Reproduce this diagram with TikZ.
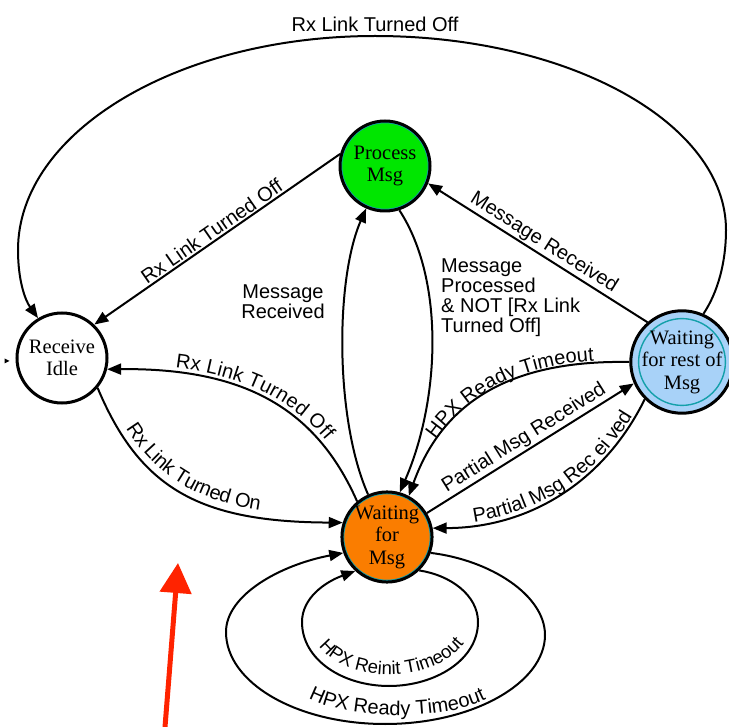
\documentclass[tikz,border=0pt]{standalone}
\usepackage{fontspec}
\setmainfont{Liberation Serif}
\setsansfont{Liberation Sans}
\usetikzlibrary{arrows.meta,decorations.text}

\definecolor{procgreen}{RGB}{0,230,0}
\definecolor{waitorange}{RGB}{250,125,0}
\definecolor{restblue}{RGB}{168,210,248}
\definecolor{ringteal}{RGB}{20,160,170}
\definecolor{markred}{RGB}{255,35,0}

\newcommand\stateLabelFont{\fontsize{20.5}{22.5}\selectfont}
\newcommand\transLabelFont{\sffamily\fontsize{20}{20}\selectfont}
\newcommand\loopLabelFont{\sffamily\fontsize{18.5}{20}\selectfont}

\tikzset{
  state/.style={circle, draw=black, line width=3pt, minimum size=90pt,
    inner sep=0pt, align=center, font=\stateLabelFont},
  ringed/.style={path picture={\draw[ringteal, line width=1.4pt]
    (path picture bounding box.center) circle[radius=43.4pt];}},
  trans/.style={line width=2pt, -{Triangle[length=14pt,width=11pt]}},
  lbl/.style={font=\transLabelFont, inner sep=1.5pt},
  % label text that follows a curved transition
  curvedlbl/.style n args={3}{decorate, decoration={text along path,
    text align={#1}, raise=#2, text={|\transLabelFont|#3}}},
  hint/.style={line width=5pt, draw=markred, -{Triangle[length=30pt,width=31pt]}}
}

\begin{document}
\begin{tikzpicture}[x=1pt,y=-1pt]
\useasboundingbox (0,0) rectangle (729,727);

% states
\node[state, fill=procgreen, ringed] (pm) at (385,166) {Process\\Msg};
\node[state, fill=white] (ri) at (62,358) {Receive\\Idle};
\node[state, fill=restblue, ringed] (wr) at (682,362) {Waiting\\for rest of\\Msg};
\node[state, fill=waitorange, ringed] (wfm) at (387,537) {Waiting\\for\\Msg};

% small entry mark left of the idle state
\fill (4.5,358.5) -- (9.5,361) -- (4.5,363.5) -- cycle;

% long arc over the top
\draw[trans] (wr.66) .. controls (718,292) and (726,262) .. (726,230)
  .. controls (726,123) and (569,36) .. (375,36)
  node[lbl, at end, above=2pt] (l1) {Rx Link Turned Off}
  .. controls (178,36) and (18,132) .. (18,250)
  .. controls (18,280) and (25,300) .. (ri.121);

% from Process Msg
\draw[trans] (pm.165) -- (ri.46)
  node[lbl, midway, sloped, above] (l2) {Rx Link Turned Off};
\draw[trans] (pm.288) .. controls (445,280) and (440,400) .. (wfm.74);
\node[lbl, anchor=west, align=left, inner sep=0pt] (l4) at (441,298)
  {Message\\Processed\\\& NOT [Rx Link\\Turned Off]};

% into Process Msg
\draw[trans] (wfm.114) .. controls (335,420) and (335,280) .. (pm.246);
\node[lbl, align=center, inner sep=0pt] (l3) at (283,302) {Message\\Received};
\draw[trans] (wr.131) -- (pm.-22)
  node[lbl, midway, sloped, above] (l5) {Message Received};

% between Receive Idle and Waiting for Msg
\draw[trans] (wfm.130) .. controls (315,406) and (241,368) .. (ri.-14);
\path[curvedlbl={center}{5pt}{Rx Link Turned Off}]
  (ri.-14) .. controls (241,368) and (315,406) .. (wfm.130);
\draw[trans] (ri.-40) .. controls (140,489) and (200,522) .. (wfm.162);
\path[curvedlbl={left, left indent=50pt}{7pt}{Rx Link Turned On}]
  (ri.-40) .. controls (140,489) and (200,522) .. (wfm.162);

% between Waiting for rest of Msg and Waiting for Msg
\draw[trans] (wr.180) .. controls (520,360) and (445,395) .. (wfm.62);
\path[curvedlbl={left, left indent=62pt}{2pt}{HPX Ready Timeout}]
  (wfm.62) .. controls (445,395) and (520,360) .. (wr.180);
\draw[trans] (wfm.31) -- (wr.204)
  node[lbl, midway, sloped, above] (l9) {Partial Msg Received};
\draw[trans] (wr.225) .. controls (604,482) and (529,528) .. (wfm.11);
\path[curvedlbl={left, left indent=42pt}{3pt}{Partial Msg Rec ei ved}]
  (wfm.11) .. controls (529,528) and (604,482) .. (wr.225);

% self loops on Waiting for Msg
\draw[trans] (wfm.-46) .. controls (450,575) and (478,595) .. (478,622)
  .. controls (478,660) and (435,686) .. (389,686)
  .. controls (343,686) and (302,660) .. (302,622)
  .. controls (302,598) and (325,582) .. (wfm.227);
\path[decorate, decoration={text along path, text align=center,
  text={|\loopLabelFont|HPX Reinit Timeout}}]
  (310,624) .. controls (320,692) and (458,692) .. (474,622);

\draw[trans] (wfm.-20) .. controls (490,560) and (545,595) .. (545,635)
  .. controls (545,683) and (473,724) .. (385,724)
  .. controls (297,724) and (226,683) .. (226,632)
  .. controls (226,595) and (280,565) .. (wfm.200);
\path[decorate, decoration={text along path, text align=center,
  text={|\transLabelFont|HPX Ready Timeout}}]
  (295,688) .. controls (328,724) and (467,724) .. (500,690);

% red pointer
\coordinate (hinttail) at (165,727);
\coordinate (hinttip) at (178,563);
\draw[hint] (hinttail) -- (hinttip);
\end{tikzpicture}
\end{document}
